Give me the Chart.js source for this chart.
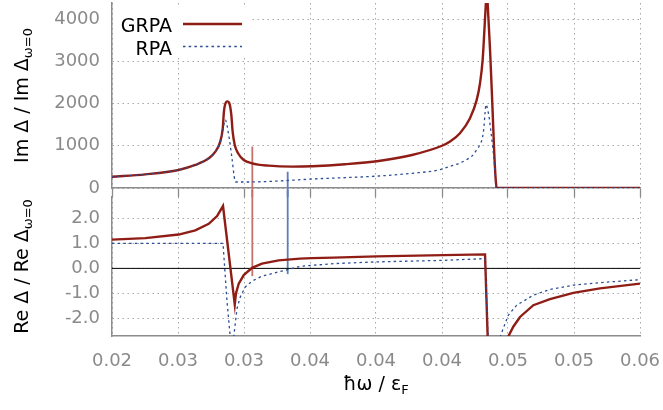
<!DOCTYPE html>
<html>
<head>
<meta charset="utf-8">
<script src="https://cdn.jsdelivr.net/npm/chart.js@4.4.0/dist/chart.umd.min.js"></script>
<style>
  html, body { margin: 0; padding: 0; background: #fff; }
  #wrap { position: relative; width: 663px; height: 410px; }
  .panel { position: absolute; left: 0; width: 663px; }
  #top { top: 0; height: 197px; }
  #bottom { top: 190px; height: 220px; }
</style>
</head>
<body>
<div id="wrap">
  <div class="panel" id="top"><canvas id="im-chart"></canvas></div>
  <div class="panel" id="bottom"><canvas id="re-chart"></canvas></div>
</div>
<script>
// Axis ranges and tick labels
const X_MIN = 0.02, X_MAX = 0.06, X_STEP = 0.005;
const IM_MIN = 0, IM_MAX = 4380;
const RE_MIN = -2.7, RE_MAX = 2.85;

const xTickLabels = ['0.02', '0.03', '0.03', '0.04', '0.04', '0.04', '0.05', '0.05', '0.06'];
const imTickValues = [0, 1000, 2000, 3000, 4000];
const imTickLabels = ['0', '1000', '2000', '3000', '4000'];
const reTickValues = [-2, -1, 0, 1, 2];
const reTickLabels = ['-2.0', '-1.0', '0.0', '1.0', '2.0'];

const seriesNames = ['GRPA', 'RPA'];

// Im part, GRPA
const grpaImX = [0.02, 0.02252, 0.02505, 0.02631, 0.02733, 0.02783, 0.02820, 0.02839, 0.02848, 0.02864,
    0.02876, 0.02889, 0.02904, 0.02914, 0.02930, 0.02955, 0.02998, 0.03061, 0.03187, 0.03364,
    0.03515, 0.03767, 0.04020, 0.04273, 0.04500, 0.04561, 0.04636, 0.04712, 0.04763, 0.04788,
    0.04808, 0.04820, 0.04831, 0.04839, 0.04851, 0.04864, 0.04877, 0.04889, 0.04896, 0.04907,
    0.04914, 0.06];
const grpaImY = [268, 323, 427, 545, 703, 860, 1098, 1414, 1809, 2032,
    2050, 2008, 1730, 1334, 1019, 822, 664, 585, 529, 505,
    514, 562, 640, 782, 1000, 1100, 1296, 1652, 2086, 2481,
    3034, 3666, 4297, 4650, 4060, 3270, 2322, 1375, 822, 197,
    0, 0];

// Im part, RPA
const rpaImX = [0.02, 0.02252, 0.02505, 0.02631, 0.02733, 0.02783, 0.02820, 0.02839, 0.02858, 0.02884,
    0.02909, 0.02930, 0.02939, 0.03010, 0.03263, 0.03515, 0.03767, 0.04020, 0.04273, 0.04485,
    0.04523, 0.04586, 0.04636, 0.04687, 0.04737, 0.04763, 0.04788, 0.04808, 0.04818, 0.04826,
    0.04833, 0.04846, 0.04858, 0.04869, 0.04881, 0.04894, 0.04904, 0.04909, 0.06];
const rpaImY = [268, 323, 427, 545, 703, 860, 1098, 1350, 1612, 1256,
    703, 190, 142, 142, 166, 213, 245, 284, 348, 434,
    474, 536, 592, 671, 789, 908, 1026, 1216, 1453, 1770,
    1975, 1855, 1652, 1375, 1060, 664, 268, 0, 0];

// Re part, GRPA (null = curve leaves the plot)
const grpaReX = [0.02, 0.02252, 0.02505, 0.02631, 0.02733, 0.02796, 0.02841, 0.02930, 0.02939, 0.02960,
    0.02998, 0.03061, 0.03136, 0.03263, 0.03424, 0.03515, 0.03677, 0.04005, 0.04510, 0.04826,
    0.04846, 0.04846, 0.05002, 0.05040, 0.05091, 0.05192, 0.05318, 0.05495, 0.05697, 0.06];
const grpaReY = [1.15, 1.21, 1.35, 1.52, 1.78, 2.09, 2.49, -1.44, -1.0, -0.61,
    -0.27, 0.02, 0.19, 0.32, 0.39, 0.41, 0.43, 0.48, 0.53, 0.56,
    -2.75, null, -2.72, -2.33, -1.94, -1.47, -1.23, -0.98, -0.80, -0.61];

// Re part, RPA
const rpaReX = [0.02, 0.02841, 0.02854, 0.02871, 0.02896, 0.02896, 0.02922, 0.02947, 0.02972, 0.03010,
    0.03061, 0.03136, 0.03263, 0.03339, 0.03424, 0.03677, 0.04005, 0.04510, 0.04826, 0.04849,
    0.04849, 0.04939, 0.04964, 0.05002, 0.05066, 0.05192, 0.05318, 0.05495, 0.05697, 0.06];
const rpaReY = [1.0, 1.0, 0.0, -1.3, -2.75, null, -2.75, -1.6, -1.14, -0.74,
    -0.51, -0.31, -0.14, -0.04, 0.08, 0.19, 0.26, 0.32, 0.39, -2.75,
    null, -2.75, -2.4, -1.87, -1.47, -1.07, -0.84, -0.67, -0.57, -0.45];

// Vertical marker lines spanning both panels
const markerX = [0.03063, 0.03331];
const markerImTop = [980, 385];
const markerReBottom = [-0.31, -0.23];

// Styles
const FONT = '"DejaVu Sans", sans-serif';
const TICK_COLOR = '#8a8a8a';
const GRID_COLOR = '#a8a8a8';
const AXIS_COLOR = '#8c8c8c';
const GRPA_COLOR = '#8f1d15';
const RPA_COLOR = '#2a4d94';
const markerColors = ['#c4726b', '#5c7fb9'];
const GRID_DASH = [1.5, 3.5];

Chart.defaults.font.family = FONT;

function toPoints(xs, ys) {
    return xs.map((x, i) => ({ x: x, y: ys[i] }));
}

// Rotated y title with a subscript part
const sideTitle = {
    id: 'sideTitle',
    afterDraw(chart, args, opts) {
        const { ctx, chartArea } = chart;
        const cy = (chartArea.top + chartArea.bottom) / 2;
        ctx.save();
        ctx.font = opts.size + 'px ' + FONT;
        const wMain = ctx.measureText(opts.main).width;
        ctx.font = opts.subSize + 'px ' + FONT;
        const wSub = ctx.measureText(opts.sub).width;
        ctx.translate(opts.x, cy);
        ctx.rotate(-Math.PI / 2);
        const start = -(wMain + wSub) / 2;
        ctx.fillStyle = '#000';
        ctx.textAlign = 'left';
        ctx.textBaseline = 'alphabetic';
        ctx.font = opts.size + 'px ' + FONT;
        ctx.fillText(opts.main, start, 0);
        ctx.font = opts.subSize + 'px ' + FONT;
        ctx.fillText(opts.sub, start + wMain, opts.subShift);
        ctx.restore();
    }
};

// x title under the lower panel
const bottomTitle = {
    id: 'bottomTitle',
    afterDraw(chart, args, opts) {
        if (!opts.main) return;
        const { ctx, chartArea } = chart;
        const cx = (chartArea.left + chartArea.right) / 2;
        ctx.save();
        ctx.font = opts.size + 'px ' + FONT;
        const wMain = ctx.measureText(opts.main).width;
        ctx.font = opts.subSize + 'px ' + FONT;
        const wSub = ctx.measureText(opts.sub).width;
        const start = cx - (wMain + wSub) / 2;
        ctx.fillStyle = '#000';
        ctx.textAlign = 'left';
        ctx.textBaseline = 'alphabetic';
        ctx.font = opts.size + 'px ' + FONT;
        ctx.fillText(opts.main, start, opts.y);
        ctx.font = opts.subSize + 'px ' + FONT;
        ctx.fillText(opts.sub, start + wMain, opts.y + opts.subShift);
        ctx.restore();
    }
};

// Opaque key box in the upper panel
const keyBox = {
    id: 'keyBox',
    beforeDatasetsDraw(chart, args, opts) {
        if (!opts.show) return;
        const { ctx } = chart;
        ctx.save();
        ctx.fillStyle = '#fff';
        ctx.fillRect(opts.box[0], opts.box[1], opts.box[2], opts.box[3]);
        ctx.restore();
    },
    afterDatasetsDraw(chart, args, opts) {
        if (!opts.show) return;
        const { ctx } = chart;
        ctx.save();
        ctx.font = opts.size + 'px ' + FONT;
        ctx.fillStyle = '#000';
        ctx.textAlign = 'right';
        ctx.textBaseline = 'alphabetic';
        opts.items.forEach((item, i) => {
            const base = opts.firstBaseline + i * opts.rowGap;
            ctx.fillText(item.label, opts.textRight, base);
            ctx.beginPath();
            ctx.lineWidth = item.width;
            ctx.strokeStyle = item.color;
            ctx.setLineDash(item.dash);
            ctx.moveTo(opts.sampleX[0], base - opts.sampleLift);
            ctx.lineTo(opts.sampleX[1], base - opts.sampleLift);
            ctx.stroke();
        });
        ctx.restore();
    }
};

// Vertical markers: top panel from value down to canvas edge, bottom panel from canvas edge down to value
const markerLines = {
    id: 'markerLines',
    beforeDatasetsDraw(chart, args, opts) {
        if (!opts.values) return;
        const { ctx } = chart;
        const xs = chart.scales.x;
        const ys = chart.scales.y;
        ctx.save();
        ctx.lineWidth = 1.8;
        markerX.forEach((mx, i) => {
            const px = xs.getPixelForValue(mx);
            const py = ys.getPixelForValue(opts.values[i]);
            ctx.strokeStyle = markerColors[i];
            ctx.beginPath();
            if (opts.fromTop) {
                ctx.moveTo(px, 0);
                ctx.lineTo(px, py);
            } else {
                ctx.moveTo(px, py);
                ctx.lineTo(px, chart.height);
            }
            ctx.stroke();
        });
        ctx.restore();
    }
};

// Black zero line in the lower panel
const zeroLine = {
    id: 'zeroLine',
    beforeDatasetsDraw(chart, args, opts) {
        if (!opts.show) return;
        const { ctx, chartArea } = chart;
        const py = chart.scales.y.getPixelForValue(0);
        ctx.save();
        ctx.strokeStyle = '#000';
        ctx.lineWidth = 1;
        ctx.beginPath();
        ctx.moveTo(chartArea.left, py);
        ctx.lineTo(chartArea.right, py);
        ctx.stroke();
        ctx.restore();
    }
};

Chart.register(sideTitle, bottomTitle, keyBox, markerLines, zeroLine);

function curveSets(rpaPts, grpaPts, smooth) {
    const mode = smooth ? 'monotone' : 'default';
    return [
        {
            label: seriesNames[1],
            data: rpaPts,
            borderColor: RPA_COLOR,
            borderWidth: 1.3,
            borderDash: [2.5, 3.2],
            cubicInterpolationMode: mode,
            tension: 0,
            pointRadius: 0,
            spanGaps: false
        },
        {
            label: seriesNames[0],
            data: grpaPts,
            borderColor: GRPA_COLOR,
            borderWidth: 2.4,
            cubicInterpolationMode: mode,
            tension: 0,
            pointRadius: 0,
            spanGaps: false
        }
    ];
}

function yAxis(min, max, values, labels) {
    return {
        type: 'linear',
        min: min,
        max: max,
        ticks: {
            color: TICK_COLOR,
            font: { size: 18 },
            padding: 12,
            callback: (val, i) => labels[i]
        },
        grid: { color: GRID_COLOR, lineWidth: 1, drawTicks: false },
        border: { color: AXIS_COLOR, width: 1.5, dash: GRID_DASH },
        afterBuildTicks: (s) => { s.ticks = values.map(v => ({ value: v })); },
        afterFit: (s) => { s.width = 112; s.paddingTop = 0; s.paddingBottom = 0; }
    };
}

// Upper panel: Im
const imChart = new Chart(document.getElementById('im-chart'), {
    type: 'line',
    data: { datasets: curveSets(toPoints(rpaImX, rpaImY), toPoints(grpaImX, grpaImY), true) },
    options: {
        responsive: true,
        maintainAspectRatio: false,
        animation: false,
        layout: { padding: { top: 3, right: 23, left: 0, bottom: 0 } },
        plugins: {
            legend: { display: false },
            tooltip: { enabled: false },
            sideTitle: { main: 'Im Δ / Im Δ', sub: 'ω=0', x: 28, size: 19, subSize: 13, subShift: 4 },
            keyBox: {
                show: true,
                box: [113, 8, 137, 50],
                size: 19,
                textRight: 172,
                firstBaseline: 32,
                rowGap: 22.5,
                sampleLift: 8,
                sampleX: [183, 242],
                items: [
                    { label: seriesNames[0], color: GRPA_COLOR, width: 2.4, dash: [] },
                    { label: seriesNames[1], color: RPA_COLOR, width: 1.3, dash: [2.5, 3.2] }
                ]
            },
            markerLines: { values: markerImTop, fromTop: false }
        },
        scales: {
            x: {
                type: 'linear',
                min: X_MIN,
                max: X_MAX,
                ticks: { display: false, stepSize: X_STEP },
                grid: { color: GRID_COLOR, drawTicks: true, tickLength: 9, tickColor: AXIS_COLOR, tickWidth: 1.3, tickBorderDash: [] },
                border: { color: AXIS_COLOR, width: 1.5, dash: GRID_DASH },
                afterFit: (s) => { s.height = 9; s.paddingLeft = 0; s.paddingRight = 0; }
            },
            y: yAxis(IM_MIN, IM_MAX, imTickValues, imTickLabels)
        }
    }
});

// Lower panel: Re
const reChart = new Chart(document.getElementById('re-chart'), {
    type: 'line',
    data: { datasets: curveSets(toPoints(rpaReX, rpaReY), toPoints(grpaReX, grpaReY), false) },
    options: {
        responsive: true,
        maintainAspectRatio: false,
        animation: false,
        layout: { padding: { top: 7, right: 23, left: 0, bottom: 0 } },
        plugins: {
            legend: { display: false },
            tooltip: { enabled: false },
            sideTitle: { main: 'Re Δ / Re Δ', sub: 'ω=0', x: 28, size: 19, subSize: 13, subShift: 4 },
            bottomTitle: { main: 'ħω / ε', sub: 'F', y: 200, size: 19, subSize: 13, subShift: 4 },
            markerLines: { values: markerReBottom, fromTop: true },
            zeroLine: { show: true }
        },
        scales: {
            x: {
                type: 'linear',
                min: X_MIN,
                max: X_MAX,
                ticks: {
                    stepSize: X_STEP,
                    autoSkip: false,
                    maxRotation: 0,
                    color: TICK_COLOR,
                    font: { size: 18 },
                    padding: 15,
                    callback: (val, i) => xTickLabels[i]
                },
                grid: { color: GRID_COLOR, drawTicks: false },
                border: { color: AXIS_COLOR, width: 1.5, dash: GRID_DASH },
                afterFit: (s) => { s.height = 74; s.paddingLeft = 0; s.paddingRight = 0; }
            },
            y: yAxis(RE_MIN, RE_MAX, reTickValues, reTickLabels)
        }
    }
});
</script>
</body>
</html>
